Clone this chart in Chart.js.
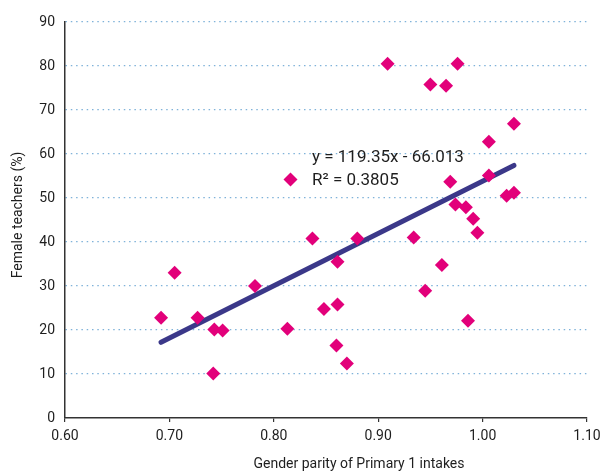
<!DOCTYPE html>
<html><head><meta charset="utf-8">
<script src="https://cdn.jsdelivr.net/npm/chart.js@4"></script>
<style>html,body{margin:0;padding:0;background:#fff}#wrap{width:607px;height:473px}</style>
</head><body><div id="wrap"><canvas id="c" width="607" height="473"></canvas></div>
<script>
const parityValues = [0.692,0.705,0.727,0.743,0.751,0.742,0.782,0.813,0.816,0.837,0.848,0.861,0.861,0.860,0.870,0.880,0.909,0.934,0.950,0.965,0.976,0.945,0.961,0.969,0.974,0.984,0.991,0.995,0.986,1.006,1.006,1.023,1.030,1.030];
const femaleTeachers = [22.8,33.0,22.8,20.1,19.9,10.1,30.0,20.3,54.2,40.8,24.8,35.5,25.8,16.5,12.4,40.8,80.5,41.0,75.8,75.5,80.5,28.9,34.8,53.7,48.5,47.9,45.3,42.1,22.1,62.8,55.1,50.5,51.2,66.9];
const trendX = [0.692, 1.030];
const trendY = [17.2, 57.4];
const equationLines = ["y = 119.35x - 66.013", "R\u00B2 = 0.3805"];
const xTitle = "Gender parity of Primary 1 intakes";
const yTitle = "Female teachers (%)";

const points = parityValues.map((x,i)=>({x, y: femaleTeachers[i]}));
const trend = trendX.map((x,i)=>({x, y: trendY[i]}));
const FONT = "Roboto, 'DejaVu Sans', sans-serif";

const textPlugin = {
  id: 'texts',
  afterDraw(chart){
    const ctx = chart.ctx;
    ctx.save();
    ctx.fillStyle = '#1e1e1e';
    ctx.font = "17px " + FONT;
    ctx.textAlign = 'left';
    ctx.textBaseline = 'middle';
    ctx.fillText(equationLines[0], 312, 158);
    ctx.fillText(equationLines[1], 312, 181);
    ctx.font = "14px " + FONT;
    ctx.textAlign = 'center';
    ctx.fillText(xTitle, 359, 464);
    ctx.translate(18, 215);
    ctx.rotate(-Math.PI/2);
    ctx.fillText(yTitle, 0, 0);
    ctx.restore();
  }
};

new Chart(document.getElementById('c'), {
  type: 'scatter',
  data: {
    datasets: [
      {
        type: 'line',
        data: trend,
        borderColor: '#3b3889',
        borderWidth: 5,
        borderCapStyle: 'round',
        pointRadius: 0,
        fill: false,
        order: 2
      },
      {
        data: points,
        pointStyle: 'rectRot',
        pointRadius: 7,
        pointHoverRadius: 7,
        backgroundColor: '#e2007a',
        borderWidth: 0,
        order: 1
      }
    ]
  },
  options: {
    responsive: false,
    animation: false,
    events: [],
    layout: { padding: { top: 22, right: 20, left: 0, bottom: 0 } },
    plugins: { legend: { display: false }, tooltip: { enabled: false } },
    scales: {
      x: {
        type: 'linear',
        min: 0.6, max: 1.1,
        ticks: {
          stepSize: 0.1,
          color: '#1e1e1e',
          font: { family: FONT, size: 14 },
          padding: 6,
          callback: v => v.toFixed(2)
        },
        grid: { drawOnChartArea: false, drawTicks: true, tickLength: 4, color: '#333', lineWidth: 1.2 },
        border: { display: true, color: '#333', width: 1.5 },
        afterFit(s){ s.height = 55; }
      },
      y: {
        min: 0, max: 90,
        ticks: {
          stepSize: 10,
          color: '#1e1e1e',
          font: { family: FONT, size: 14 },
          padding: 10
        },
        grid: {
          drawTicks: false,
          color: ctx => ctx.tick && ctx.tick.value === 0 ? 'rgba(0,0,0,0)' : '#7fb2d9',
          lineWidth: 1.2
        },
        border: { display: true, color: '#333', width: 1.5, dash: [1.5, 3.8] },
        afterFit(s){ s.width = 65; }
      }
    }
  },
  plugins: [textPlugin]
});
</script></body></html>
